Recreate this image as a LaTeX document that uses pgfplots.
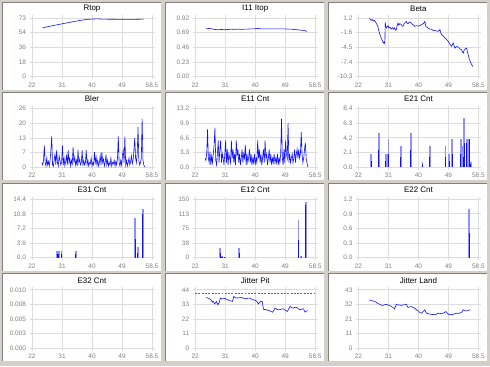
\documentclass[border=0pt]{standalone}
\usepackage{pgfplots}
\pgfplotsset{compat=1.18}
\usepackage{fontspec}
\setmainfont{Liberation Sans}
\definecolor{bg}{HTML}{D4D0C8}
\definecolor{gridc}{HTML}{DCDCDC}
\definecolor{labc}{HTML}{808080}
\definecolor{lblue}{HTML}{9090FF}
\definecolor{dblue}{HTML}{1010FF}
\definecolor{dred}{RGB}{255,40,40}
\pgfplotsset{panel/.style={
  scale only axis, width=120bp, height=58.5bp, anchor=north west,
  xmin=22, xmax=58.5,
  xtick={22,31.125,40.25,49.375,58.5}, xticklabels={22,31,40,49,58.5},
  scaled y ticks=false,
  axis line style={draw=gridc, line width=0.7bp},
  grid=major, major grid style={draw=gridc, line width=0.7bp},
  tick align=outside, major tick length=2.5bp, tick style={draw=gridc, line width=0.7bp},
  ticklabel style={font=\fontsize{6.5}{7}\selectfont, text=labc},
  /pgf/number format/assume math mode=true,
  title style={font=\fontsize{8}{9}\selectfont, at={(0.5,1)}, anchor=center, yshift=3.5bp, inner sep=0pt},
  every axis plot/.append style={line width=0.6bp},
}}
\begin{document}
\begin{tikzpicture}[x=1bp,y=1bp]
\fill[bg] (0,0) rectangle (490,366);
\foreach \x in {2,165,328}{\foreach \y in {364,273.5,183,92.5}{
  \fill[white] (\x,\y) rectangle ++(159,-87.5);
  \draw[labc, line width=0.8bp] (\x,\y-87.5) -- (\x,\y) -- (\x+159,\y);
}}

% Row 1
\begin{axis}[panel, at={(32bp,348bp)}, title={Rtop}, ymin=0, ymax=73,
  ytick={0,18.25,36.5,54.75,73}, yticklabels={0,18,36,54,73}]
\addplot[dblue] coordinates {(25.2,60.5) (26,61.5) (27,62.3) (28,63.2) (29,64) (30,64.8) (31,65.6) (32,66.4) (33,67.2) (34,68) (35,68.8) (36,69.5) (37,70.2) (38,70.8) (39,71.3) (40,71.6) (41,71.8) (42,71.9) (43,71.7) (44,71.6) (45,71.5) (46,71.4) (47,71.4) (48,71.3) (49,71.2) (50,71.2) (51,71.2) (52,71.3) (53,71.3) (54,71.4) (55,71.5) (56,71.6)};
\end{axis}

\begin{axis}[panel, at={(195.2bp,348bp)}, title={I11 Itop}, ymin=0, ymax=0.92,
  ytick={0,0.23,0.46,0.69,0.92}, yticklabels={0.00,0.23,0.46,0.69,0.92}]
\addplot[dblue] coordinates {(25.3,0.76) (26,0.755) (27,0.75) (28,0.74) (29,0.735) (30,0.74) (31,0.735) (32,0.74) (33,0.745) (34,0.74) (35,0.745) (36,0.74) (37,0.745) (38,0.745) (39,0.75) (40,0.75) (41,0.755) (42,0.75) (43,0.75) (44,0.75) (45,0.75) (46,0.75) (47,0.75) (48,0.75) (49,0.75) (50,0.745) (51,0.745) (52,0.74) (53,0.735) (54,0.73) (55,0.725) (56,0.71)};
\end{axis}

\begin{axis}[panel, at={(358.4bp,348bp)}, title={Beta}, ymin=-10.3, ymax=1.2,
  ytick={-10.3,-7.425,-4.55,-1.675,1.2}, yticklabels={-10.3,-7.4,-4.5,-1.6,1.2}]
\addplot[dblue] coordinates {(25.4,1.2) (25.6,0.9) (25.9,0.74) (26.2,0.9) (26.5,0.6) (26.9,0.74) (27.2,0.4) (27.4,0.21) (27.7,-0.2) (27.9,-0.44) (28.1,-1.0) (28.4,-1.76) (28.7,-2.3) (28.9,-2.74) (29.2,-3.1) (29.6,-3.73) (29.9,-3.5) (30.05,-3.86) (30.15,0.35) (30.3,-0.3) (30.5,-0.77) (30.8,-0.5) (31.0,-0.31) (31.3,-0.8) (31.6,-0.6) (32.0,-0.97) (32.4,-0.7) (32.7,-1.0) (33.0,-0.77) (33.3,-1.2) (33.5,-1.1) (33.8,-0.3) (34.0,0.21) (34.3,-0.2) (34.6,0.1) (35.1,-0.11) (35.3,-0.4) (35.6,-0.44) (35.9,0.1) (36.2,0.3) (36.6,0.54) (36.8,0.2) (37.1,0.08) (37.5,0.4) (38.1,0.21) (38.5,-0.1) (38.8,-0.2) (39.1,-0.44) (39.6,-0.31) (40.2,-0.4) (40.7,-0.31) (41.2,-0.1) (41.7,0.08) (42.0,0.3) (42.2,0.54) (42.5,-0.44) (43.0,-0.7) (43.7,-0.97) (44.2,-1.0) (44.7,-1.23) (45.5,-1.3) (46.3,-1.43) (46.8,-1.1) (47.0,-1.6) (47.3,-2.09) (47.8,-2.3) (48.3,-2.74) (48.8,-3.0) (49.3,-3.4) (49.8,-3.9) (50.3,-4.38) (50.6,-4.0) (50.9,-3.73) (51.1,-4.3) (51.4,-4.71) (51.9,-4.4) (52.4,-4.52) (52.9,-4.9) (53.4,-5.04) (53.6,-5.4) (53.9,-5.7) (54.1,-5.2) (54.4,-4.91) (54.9,-4.71) (55.1,-5.3) (55.4,-6.03) (55.7,-6.8) (56.0,-7.34) (56.4,-7.9) (56.8,-8.33)};
\end{axis}

% Row 2
\begin{axis}[panel, at={(32bp,257.4bp)}, title={Bler}, ymin=0, ymax=26,
  ytick={0,6.5,13,19.5,26}, yticklabels={0,7,13,20,26}]
\addplot[dblue] table {
25.0 2
25.25 1
25.5 3
25.75 9.7
26.0 2
26.25 0.5
26.5 4
26.75 1
27.0 2.5
27.25 0.5
27.5 3
27.75 7.5
28.0 13.7
28.25 1
28.5 0.3
28.75 3
29.0 6
29.25 1
29.5 7.5
29.75 2
30.0 0.5
30.25 5
30.5 3
30.75 1
31.0 2
31.25 9.7
31.5 1
31.75 4
32.0 0.5
32.25 2.5
32.5 5
32.75 1
33.0 7.5
33.25 2
33.5 4
33.75 0.5
34.0 3
34.25 1.5
34.5 8.9
34.75 2
35.0 4.5
35.25 1
35.5 3
35.75 0.5
36.0 7.5
36.25 2
36.5 3.5
36.75 1
37.0 2
37.25 7.5
37.5 0.5
37.75 3
38.0 1
38.25 2
38.5 7.5
38.75 1
39.0 3
39.25 0.5
39.5 2
39.75 1.5
40.0 4
40.25 0.5
40.5 2
40.75 1
41.0 6.7
41.25 2
41.5 4.5
41.75 1
42.0 3
42.25 0.5
42.5 2
42.75 5
43.0 1
43.25 6.7
43.5 2
43.75 3.5
44.0 0.5
44.25 2
44.5 5.5
44.75 1
45.0 3
45.25 0.5
45.5 2
45.75 1
46.0 4
46.25 0.5
46.5 2
46.75 1.5
47.0 3
47.25 0.5
47.5 2.5
47.75 1
48.0 4
48.25 13.7
48.5 2
48.75 0.5
49.0 3
49.25 1
49.5 5
49.75 7.5
50.0 2
50.25 13.7
50.5 1
50.75 3
51.0 0.5
51.25 2
51.5 4
51.75 1
52.0 2.5
52.25 5
52.5 1.5
52.75 3
53.0 7.5
53.25 12.9
53.5 4
53.75 2
54.0 6
54.25 17.8
54.5 3
54.75 1
55.0 2
55.25 4
55.5 21.5
55.75 3
56.0 1
56.25 0
};
\end{axis}

\begin{axis}[panel, at={(195.2bp,257.4bp)}, title={E11 Cnt}, ymin=0, ymax=13.2,
  ytick={0,3.3,6.6,9.9,13.2}, yticklabels={0.0,3.3,6.6,9.9,13.2}]
\addplot[dblue] table {
25.0 2
25.25 1.5
25.5 3
25.75 8.5
26.0 2
26.25 1
26.5 3.5
26.75 0.5
27.0 2.5
27.25 1
27.5 3
27.75 5
28.0 8.9
28.25 1.5
28.5 0.5
28.75 3
29.0 6
29.25 1
29.5 4
29.75 6
30.0 1
30.25 3
30.5 2
30.75 0.5
31.0 3
31.25 6
31.5 1
31.75 4
32.0 0.5
32.25 3
32.5 2
32.75 1
33.0 6
33.25 2
33.5 4
33.75 1
34.0 3
34.25 0.5
34.5 6
34.75 2.5
35.0 4
35.25 1
35.5 3
35.75 0.5
36.0 2
36.25 4
36.5 1
36.75 3
37.0 2
37.25 5
37.5 0.5
37.75 3
38.0 1
38.25 2
38.5 4
38.75 1
39.0 3
39.25 0.5
39.5 2
39.75 1
40.0 3
40.25 0.5
40.5 2
40.75 1
41.0 6
41.25 2
41.5 4
41.75 1
42.0 3
42.25 0.5
42.5 2
42.75 4
43.0 1
43.25 6
43.5 2
43.75 3
44.0 0.5
44.25 2
44.5 4
44.75 1
45.0 3
45.25 0.5
45.5 2
45.75 1
46.0 3
46.25 1
46.5 2
46.75 1
47.0 3
47.25 0.5
47.5 2
47.75 1
48.0 3
48.25 10.9
48.5 2
48.75 0.5
49.0 4
49.25 1
49.5 6
49.75 3
50.0 2
50.25 10
50.5 1
50.75 3
51.0 1
51.25 2
51.5 3
51.75 1
52.0 2
52.25 4
52.5 1
52.75 3
53.0 4
53.25 2
53.5 4
53.75 2
54.0 3
54.25 7.9
54.5 3
54.75 1
55.0 2
55.25 4
55.5 5.5
55.75 2
56.0 1
56.25 0
};
\end{axis}

\begin{axis}[panel, at={(358.4bp,257.4bp)}, title={E21 Cnt}, ymin=0, ymax=8.4,
  ytick={0,2.1,4.2,6.3,8.4}, yticklabels={0.0,2.1,4.2,6.3,8.4}]
\addplot[lblue, ycomb, line width=1.8bp] coordinates {(25.87,1.9) (28.22,4.9) (30.26,1.9) (30.6,1.9) (31.18,4.0) (34.85,3.0) (37.9,4.9) (41.47,0.8) (43.72,3.0) (48.51,3.0) (49.63,1.9) (50.55,4.0) (53.1,4.0) (53.5,3.0) (54.22,7.1) (54.93,4.0) (55.75,4.0) (56.16,0.8)};
\addplot[dblue, ycomb, line width=1.1bp] coordinates {(25.87,0.9) (28.22,2.4) (30.26,0.9) (31.18,1.9) (34.85,1.4) (37.9,2.4) (41.47,0.4) (43.72,1.4) (48.51,1.4) (49.63,0.9) (50.55,1.9) (53.1,1.9) (53.91,1.4) (54.22,3.5) (54.93,3.4) (55.75,4.0) (56.16,0.4)};
\end{axis}

% Row 3
\begin{axis}[panel, at={(32bp,166.8bp)}, title={E31 Cnt}, ymin=0, ymax=14.4,
  ytick={0,3.6,7.2,10.8,14.4}, yticklabels={0.0,3.6,7.2,10.8,14.4}]
\addplot[lblue, ycomb, line width=1.8bp] coordinates {(29.65,1.6) (30.16,1.6) (30.97,1.6) (35.36,1.6) (53.4,9.7) (54.22,2.6) (55.65,11.9)};
\addplot[dblue, ycomb, line width=1.1bp] coordinates {(29.65,0.8) (30.16,0.8) (30.97,0.8) (35.36,0.8) (53.4,4.5) (54.22,1.2) (55.65,10.7)};
\end{axis}

\begin{axis}[panel, at={(195.2bp,166.8bp)}, title={E12 Cnt}, ymin=0, ymax=150,
  ytick={0,37.5,75,112.5,150}, yticklabels={0,38,75,113,150}]
\addplot[lblue, ycomb, line width=1.8bp] coordinates {(29.65,25.7) (30.16,5) (30.97,3) (35.36,25.7) (53.4,97) (54.22,4) (55.65,144)};
\addplot[dblue, ycomb, line width=1.1bp] coordinates {(29.65,12) (30.16,3) (30.97,3) (35.36,12) (53.4,45) (54.22,3) (55.65,135)};
\end{axis}

\begin{axis}[panel, at={(358.4bp,166.8bp)}, title={E22 Cnt}, ymin=0, ymax=1.2,
  ytick={0,0.3,0.6,0.9,1.2}, yticklabels={0.0,0.3,0.6,0.9,1.2}]
\addplot[lblue, ycomb, line width=1.8bp] coordinates {(55.75,1.0)};
\addplot[dblue, ycomb, line width=1.1bp] coordinates {(55.75,0.5)};
\end{axis}

% Row 4
\begin{axis}[panel, at={(32bp,76.2bp)}, title={E32 Cnt}, ymin=0, ymax=0.01,
  ytick={0,0.0025,0.005,0.0075,0.01}, yticklabels={0.000,0.003,0.005,0.008,0.010}]
\addplot[draw=none] coordinates {(22,0) (58.5,0)};
\end{axis}

\begin{axis}[panel, at={(195.2bp,76.2bp)}, title={Jitter Pit}, ymin=0, ymax=44,
  ytick={0,11,22,33,44}, yticklabels={0,11,22,33,44}, unbounded coords=jump]
\addplot[draw=dred, line width=0.9bp] coordinates {(22,41) (22.6,41) (22.8,nan) (23,41) (23.6,41) (23.8,nan) (24,41) (24.6,41) (24.8,nan) (25,41) (25.6,41) (25.8,nan) (26,41) (26.6,41) (26.8,nan) (27,41) (27.6,41) (27.8,nan) (28,41) (28.6,41) (28.8,nan) (29,41) (29.6,41) (29.8,nan) (30,41) (30.6,41) (30.8,nan) (31,41) (31.6,41) (31.8,nan) (32,41) (32.6,41) (32.8,nan) (33,41) (33.6,41) (33.8,nan) (34,41) (34.6,41) (34.8,nan) (35,41) (35.6,41) (35.8,nan) (36,41) (36.6,41) (36.8,nan) (37,41) (37.6,41) (37.8,nan) (38,41) (38.6,41) (38.8,nan) (39,41) (39.6,41) (39.8,nan) (40,41) (40.6,41) (40.8,nan) (41,41) (41.6,41) (41.8,nan) (42,41) (42.6,41) (42.8,nan) (43,41) (43.6,41) (43.8,nan) (44,41) (44.6,41) (44.8,nan) (45,41) (45.6,41) (45.8,nan) (46,41) (46.6,41) (46.8,nan) (47,41) (47.6,41) (47.8,nan) (48,41) (48.6,41) (48.8,nan) (49,41) (49.6,41) (49.8,nan) (50,41) (50.6,41) (50.8,nan) (51,41) (51.6,41) (51.8,nan) (52,41) (52.6,41) (52.8,nan) (53,41) (53.6,41) (53.8,nan) (54,41) (54.6,41) (54.8,nan) (55,41) (55.6,41) (55.8,nan) (56,41) (56.6,41) (56.8,nan) (57,41) (57.6,41) (57.8,nan) (58,41) (58.5,41)};
\addplot[dblue] coordinates {(25.36,38.2) (25.9,37.8) (26.38,37.2) (26.8,36.5) (27.2,34.7) (27.5,35.3) (27.91,33.4) (28.42,35.2) (28.7,33.8) (28.93,32.7) (29.3,34.5) (29.65,37.7) (30.0,37.3) (30.46,37.2) (31.0,37.5) (31.48,37.0) (32.0,36.4) (32.5,35.7) (33.0,35.6) (33.32,35.2) (33.73,39.0) (34.1,38.3) (34.54,37.7) (35.3,38.0) (36.07,38.2) (36.8,37.6) (37.6,37.2) (38.1,37.8) (38.62,37.7) (39.1,37.0) (39.64,36.5) (40.2,36.1) (40.66,35.7) (41.17,33.4) (41.4,34.0) (41.68,34.7) (42.0,35.5) (42.39,35.2) (42.6,31.5) (42.9,28.9) (43.3,29.3) (43.72,28.9) (44.2,28.4) (44.74,28.2) (45.1,27.6) (45.55,27.2) (45.9,28.5) (46.27,30.2) (46.8,29.4) (47.29,28.9) (48.0,29.3) (48.82,29.7) (49.4,28.6) (50.04,27.7) (50.4,29.5) (50.86,31.4) (51.3,30.6) (51.87,30.2) (52.4,30.9) (52.89,30.7) (53.4,29.6) (53.91,28.9) (54.4,29.5) (54.93,29.7) (55.2,28.2) (55.44,27.2) (55.8,28.0) (56.16,28.4)};
\end{axis}

\begin{axis}[panel, at={(358.4bp,76.2bp)}, title={Jitter Land}, ymin=0, ymax=43,
  ytick={0,10.75,21.5,32.25,43}, yticklabels={0,11,21,32,43}]
\addplot[dblue] coordinates {(25.36,35.6) (25.9,35.0) (26.38,34.9) (26.9,34.5) (27.4,33.9) (27.9,33.0) (28.42,32.4) (28.9,31.8) (29.44,31.5) (29.9,32.0) (30.46,32.4) (31.0,31.8) (31.48,31.5) (32.0,30.8) (32.5,30.0) (33.01,29.0) (33.52,32.4) (34.0,31.8) (34.54,31.9) (35.0,31.5) (35.56,31.9) (36.1,32.0) (36.58,32.4) (37.09,30.0) (37.6,30.4) (38.11,30.7) (38.6,30.1) (39.13,29.5) (39.6,28.4) (40.15,27.5) (40.6,26.5) (41.17,25.8) (41.7,27.0) (42.19,28.3) (42.7,25.8) (43.2,25.4) (43.72,25.1) (44.5,24.9) (45.25,24.6) (45.8,25.2) (46.27,25.8) (47.0,25.6) (47.8,25.8) (48.2,26.3) (48.61,27.0) (49.33,25.1) (49.8,24.8) (50.34,24.6) (51.1,25.2) (51.87,25.8) (52.6,25.7) (53.4,26.5) (53.91,28.3) (54.4,27.6) (54.93,27.5) (55.5,28.0) (56.16,28.3)};
\end{axis}
\pgfresetboundingbox
\path[use as bounding box] (0,0) rectangle (490,366);
\end{tikzpicture}
\end{document}
